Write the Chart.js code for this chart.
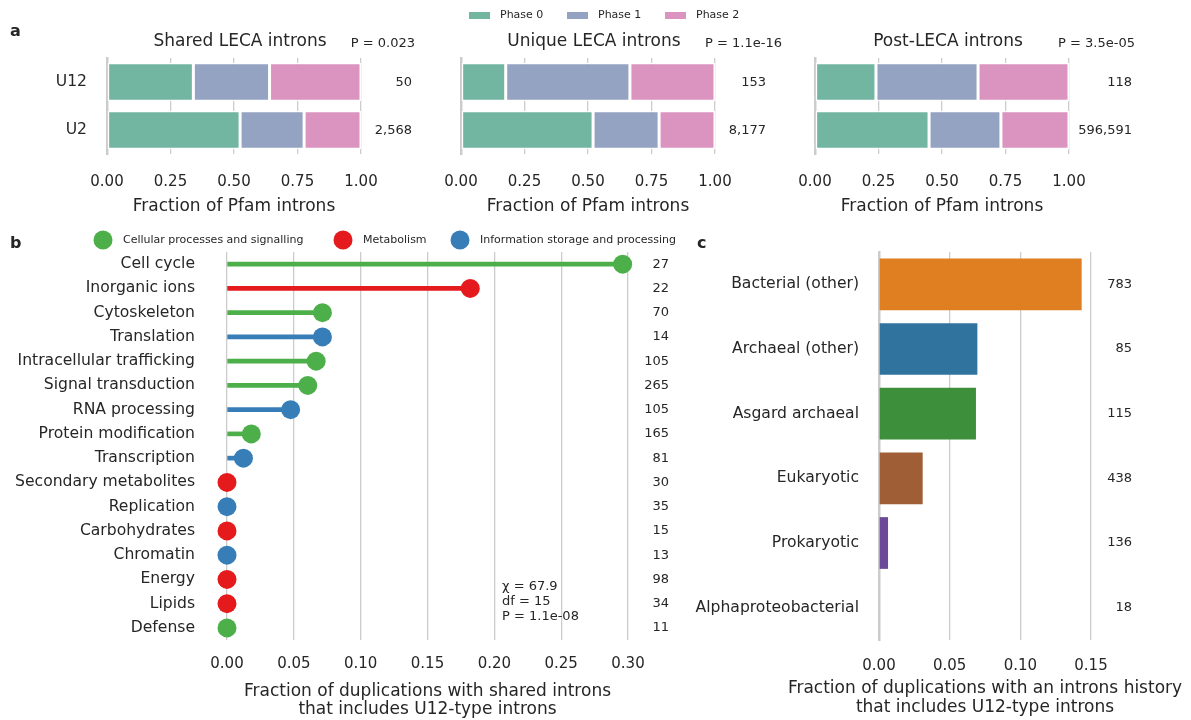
<!DOCTYPE html>
<html>
<head>
<meta charset="utf-8">
<script src="https://cdn.jsdelivr.net/npm/chart.js@4/dist/chart.umd.min.js"></script>
<style>
  html, body { margin: 0; padding: 0; background: #ffffff; }
  #figure { position: relative; width: 1191px; height: 720px; overflow: hidden; }
  #figure canvas { position: absolute; left: 0; top: 0; }
</style>
</head>
<body>
<div id="figure">
  <canvas id="a1" width="1191" height="720"></canvas>
  <canvas id="a2" width="1191" height="720"></canvas>
  <canvas id="a3" width="1191" height="720"></canvas>
  <canvas id="b" width="1191" height="720"></canvas>
  <canvas id="c" width="1191" height="720"></canvas>
</div>
<script>
// ---- Panel a: intron phase composition ----
const intronTypes = ['U12', 'U2'];
const phaseNames = ['Phase 0', 'Phase 1', 'Phase 2'];
const panelATitles = ['Shared LECA introns', 'Unique LECA introns', 'Post-LECA introns'];
const panelAPValues = ['P = 0.023', 'P = 1.1e-16', 'P = 3.5e-05'];
const sharedPhase0 = [0.340, 0.524];
const sharedPhase1 = [0.300, 0.252];
const sharedPhase2 = [0.360, 0.224];
const uniquePhase0 = [0.176, 0.520];
const uniquePhase1 = [0.489, 0.260];
const uniquePhase2 = [0.335, 0.220];
const postPhase0 = [0.240, 0.449];
const postPhase1 = [0.402, 0.283];
const postPhase2 = [0.358, 0.268];
const sharedCounts = ['50', '2,568'];
const uniqueCounts = ['153', '8,177'];
const postCounts = ['118', '596,591'];
const phaseTicks = [0, 0.25, 0.5, 0.75, 1.0];

// ---- Panel b: functional categories ----
const functionCategories = ['Cell cycle', 'Inorganic ions', 'Cytoskeleton', 'Translation',
  'Intracellular trafficking', 'Signal transduction', 'RNA processing', 'Protein modification',
  'Transcription', 'Secondary metabolites', 'Replication', 'Carbohydrates', 'Chromatin',
  'Energy', 'Lipids', 'Defense'];
const functionClasses = ['cellular', 'metabolism', 'cellular', 'information',
  'cellular', 'cellular', 'information', 'cellular',
  'information', 'metabolism', 'information', 'metabolism', 'information',
  'metabolism', 'metabolism', 'cellular'];
const functionU12Fraction = [0.296, 0.182, 0.0714, 0.0714, 0.0667, 0.0604, 0.0476, 0.0182,
  0.0123, 0, 0, 0, 0, 0, 0, 0];
const functionCounts = [27, 22, 70, 14, 105, 265, 105, 165, 81, 30, 35, 15, 13, 98, 34, 11];
const classNames = ['Cellular processes and signalling', 'Metabolism', 'Information storage and processing'];
const chiSquareLines = ['\u03c7 = 67.9', 'df = 15', 'P = 1.1e-08'];
const functionTicks = [0, 0.05, 0.10, 0.15, 0.20, 0.25, 0.30];

// ---- Panel c: donor origin ----
const originCategories = ['Bacterial (other)', 'Archaeal (other)', 'Asgard archaeal',
  'Eukaryotic', 'Prokaryotic', 'Alphaproteobacterial'];
const originU12Fraction = [0.1434, 0.0696, 0.0686, 0.0309, 0.0064, 0];
const originCounts = [783, 85, 115, 438, 136, 18];
const originTicks = [0, 0.05, 0.10, 0.15];
const originAxisTitle = ['Fraction of duplications with an introns history', 'that includes U12-type introns'];

// ---- styling ----
const W = 1191, H = 720;
const INK = '#262626';
const GRID = '#cccccc';
const FONT = '"DejaVu Sans", "Liberation Sans", sans-serif';
const LABEL_SIZE = 15.6;
const phaseColors = ['#72b6a1', '#95a3c3', '#db93bf'];
const classColors = { cellular: '#4daf4a', metabolism: '#e41a1c', information: '#377eb8' };
const originColors = ['#e07f22', '#31739f', '#3d8f3b', '#a05e37', '#6b4a97', '#888888'];

Chart.defaults.font.family = FONT;
Chart.defaults.color = INK;
Chart.defaults.devicePixelRatio = 1;

function font(size, weight) {
  return (weight ? weight + ' ' : '') + size + 'px ' + FONT;
}
function text(ctx, str, x, y, size, align, baseline, weight) {
  ctx.save();
  ctx.font = font(size, weight);
  ctx.fillStyle = INK;
  ctx.textAlign = align || 'left';
  ctx.textBaseline = baseline || 'middle';
  ctx.fillText(str, x, y);
  ctx.restore();
}
// Fix the plot rectangle in page coordinates by pinning axis box sizes.
function frame(area, yWidth, xHeight) {
  return {
    padding: {
      left: area.left - yWidth,
      top: area.top,
      right: W - area.right,
      bottom: H - area.bottom - xHeight
    }
  };
}
function tickSetter(values) {
  return function (scale) { scale.ticks = values.map(v => ({ value: v })); };
}

// ---------- panel a ----------
const phaseSets = [
  [sharedPhase0, sharedPhase1, sharedPhase2, sharedCounts],
  [uniquePhase0, uniquePhase1, uniquePhase2, uniqueCounts],
  [postPhase0, postPhase1, postPhase2, postCounts]
];
const aLefts = [107, 461, 815];
const aCountRight = [412, 766, 1132];
const aPRight = [415, 782, 1135];

phaseSets.forEach((set, i) => {
  const area = { left: aLefts[i], right: aLefts[i] + 254, top: 58, bottom: 154 };
  const yW = 100, xH = 63;
  new Chart(document.getElementById('a' + (i + 1)), {
    type: 'bar',
    data: {
      labels: intronTypes,
      datasets: phaseNames.map((name, k) => ({
        label: name,
        data: set[k],
        backgroundColor: phaseColors[k],
        borderColor: '#ffffff',
        borderWidth: 1.5,
        borderSkipped: false,
        barPercentage: 0.8,
        categoryPercentage: 1.0
      }))
    },
    options: {
      indexAxis: 'y',
      responsive: false,
      animation: false,
      events: [],
      layout: frame(area, yW, xH),
      plugins: { legend: { display: false }, tooltip: { enabled: false } },
      scales: {
        x: {
          type: 'linear', min: 0, max: 1, stacked: true,
          afterBuildTicks: tickSetter(phaseTicks),
          afterFit: s => { s.height = xH; },
          grid: { color: GRID, lineWidth: 1.3, drawTicks: false },
          border: { display: false },
          ticks: { callback: v => Number(v).toFixed(2), font: { size: 15 }, padding: 19, maxRotation: 0 },
          title: { display: true, text: 'Fraction of Pfam introns', font: { size: 17 }, padding: 0 }
        },
        y: {
          type: 'category', stacked: true,
          afterFit: s => { s.width = yW; },
          grid: { display: false, drawTicks: false },
          border: { display: true, color: GRID, width: 2.5 },
          ticks: { display: i === 0, font: { size: LABEL_SIZE }, padding: 20 }
        }
      }
    },
    plugins: [{
      id: 'phaseNotes',
      afterDraw(chart) {
        const ctx = chart.ctx;
        const ca = chart.chartArea;
        const ys = chart.scales.y;
        text(ctx, panelATitles[i], (ca.left + ca.right) / 2 + 6, 46, 17, 'center', 'alphabetic');
        text(ctx, panelAPValues[i], aPRight[i], 46.5, 13, 'right', 'alphabetic');
        set[3].forEach((c, j) => text(ctx, c, aCountRight[i], ys.getPixelForValue(j) + 1, 13, 'right', 'middle'));
        if (i === 0) {
          text(ctx, 'a', 10, 36, 16, 'left', 'alphabetic', 'bold');
        }
        if (i === 1) {
          // legend of intron phases
          const legendX = [469, 567, 665];
          phaseNames.forEach((name, k) => {
            ctx.save();
            ctx.fillStyle = phaseColors[k];
            ctx.fillRect(legendX[k], 12, 21, 7);
            ctx.restore();
            text(ctx, name, legendX[k] + 31, 15.5, 11, 'left', 'middle');
          });
        }
      }
    }]
  });
});

// ---------- panel b ----------
(function () {
  const area = { left: 227, right: 628, top: 252, bottom: 640 };
  const yW = 227, xH = 79;
  const colors = functionClasses.map(c => classColors[c]);
  new Chart(document.getElementById('b'), {
    type: 'bar',
    data: {
      labels: functionCategories,
      datasets: [
        {
          type: 'line',
          data: functionU12Fraction,
          showLine: false,
          pointRadius: 9.5,
          pointHoverRadius: 9.5,
          pointBackgroundColor: colors,
          pointBorderWidth: 0,
          clip: false,
          order: 0
        },
        {
          type: 'bar',
          data: functionU12Fraction,
          backgroundColor: colors,
          barThickness: 4,
          borderWidth: 0,
          clip: false,
          order: 1
        }
      ]
    },
    options: {
      indexAxis: 'y',
      responsive: false,
      animation: false,
      events: [],
      layout: frame(area, yW, xH),
      plugins: { legend: { display: false }, tooltip: { enabled: false } },
      scales: {
        x: {
          type: 'linear', min: 0, max: 0.3,
          afterBuildTicks: tickSetter(functionTicks),
          afterFit: s => { s.height = xH; },
          grid: { color: GRID, lineWidth: 1.3, drawTicks: false },
          border: { display: false },
          ticks: { callback: v => Number(v).toFixed(2), font: { size: 15 }, padding: 15, maxRotation: 0 },
          title: {
            display: true,
            text: ['Fraction of duplications with shared introns', 'that includes U12-type introns'],
            font: { size: 17, lineHeight: 1.08 }, padding: 0
          }
        },
        y: {
          type: 'category',
          afterFit: s => { s.width = yW; },
          grid: { display: false, drawTicks: false },
          border: { display: false },
          ticks: { font: { size: LABEL_SIZE }, padding: 32 }
        }
      }
    },
    plugins: [{
      id: 'functionNotes',
      afterDraw(chart) {
        const ctx = chart.ctx;
        const ys = chart.scales.y;
        functionCounts.forEach((n, j) => text(ctx, String(n), 669, ys.getPixelForValue(j), 13, 'right', 'middle'));
        chiSquareLines.forEach((s, j) => text(ctx, s, 502, 587 + j * 15, 13, 'left', 'middle'));
        text(ctx, 'b', 10, 248, 16, 'left', 'alphabetic', 'bold');
        const keys = ['cellular', 'metabolism', 'information'];
        const lx = [103, 343, 460];
        keys.forEach((k, j) => {
          ctx.save();
          ctx.fillStyle = classColors[k];
          ctx.beginPath();
          ctx.arc(lx[j], 240, 9.5, 0, Math.PI * 2);
          ctx.fill();
          ctx.restore();
          text(ctx, classNames[j], lx[j] + 20, 240, 11, 'left', 'middle');
        });
      }
    }]
  });
})();

// ---------- panel c ----------
(function () {
  const area = { left: 879, right: 1091, top: 252, bottom: 640 };
  const yW = 879, xH = 76;
  new Chart(document.getElementById('c'), {
    type: 'bar',
    data: {
      labels: originCategories,
      datasets: [{
        data: originU12Fraction,
        backgroundColor: originColors,
        borderWidth: 0,
        barPercentage: 0.8,
        categoryPercentage: 1.0
      }]
    },
    options: {
      indexAxis: 'y',
      responsive: false,
      animation: false,
      events: [],
      layout: frame(area, yW, xH),
      plugins: { legend: { display: false }, tooltip: { enabled: false } },
      scales: {
        x: {
          type: 'linear', min: 0, max: 0.15,
          afterBuildTicks: tickSetter(originTicks),
          afterFit: s => { s.height = xH; },
          grid: { color: GRID, lineWidth: 1.3, drawTicks: false },
          border: { display: false },
          ticks: { callback: v => Number(v).toFixed(2), font: { size: 15 }, padding: 17, maxRotation: 0 }
        },
        y: {
          type: 'category',
          afterFit: s => { s.width = yW; },
          grid: { display: false, drawTicks: false },
          border: { display: true, color: GRID, width: 2.5 },
          ticks: { font: { size: LABEL_SIZE }, padding: 20 }
        }
      }
    },
    plugins: [{
      id: 'originNotes',
      afterDraw(chart) {
        const ctx = chart.ctx;
        const ys = chart.scales.y;
        originCounts.forEach((n, j) => text(ctx, String(n), 1132, ys.getPixelForValue(j), 13, 'right', 'middle'));
        // axis title is wider than the plot, so it is set freely below the axis
        originAxisTitle.forEach((s, j) => text(ctx, s, 985, 689 + j * 18.5, 17, 'center', 'middle'));
        text(ctx, 'c', 697, 248, 16, 'left', 'alphabetic', 'bold');
      }
    }]
  });
})();
</script>
</body>
</html>
